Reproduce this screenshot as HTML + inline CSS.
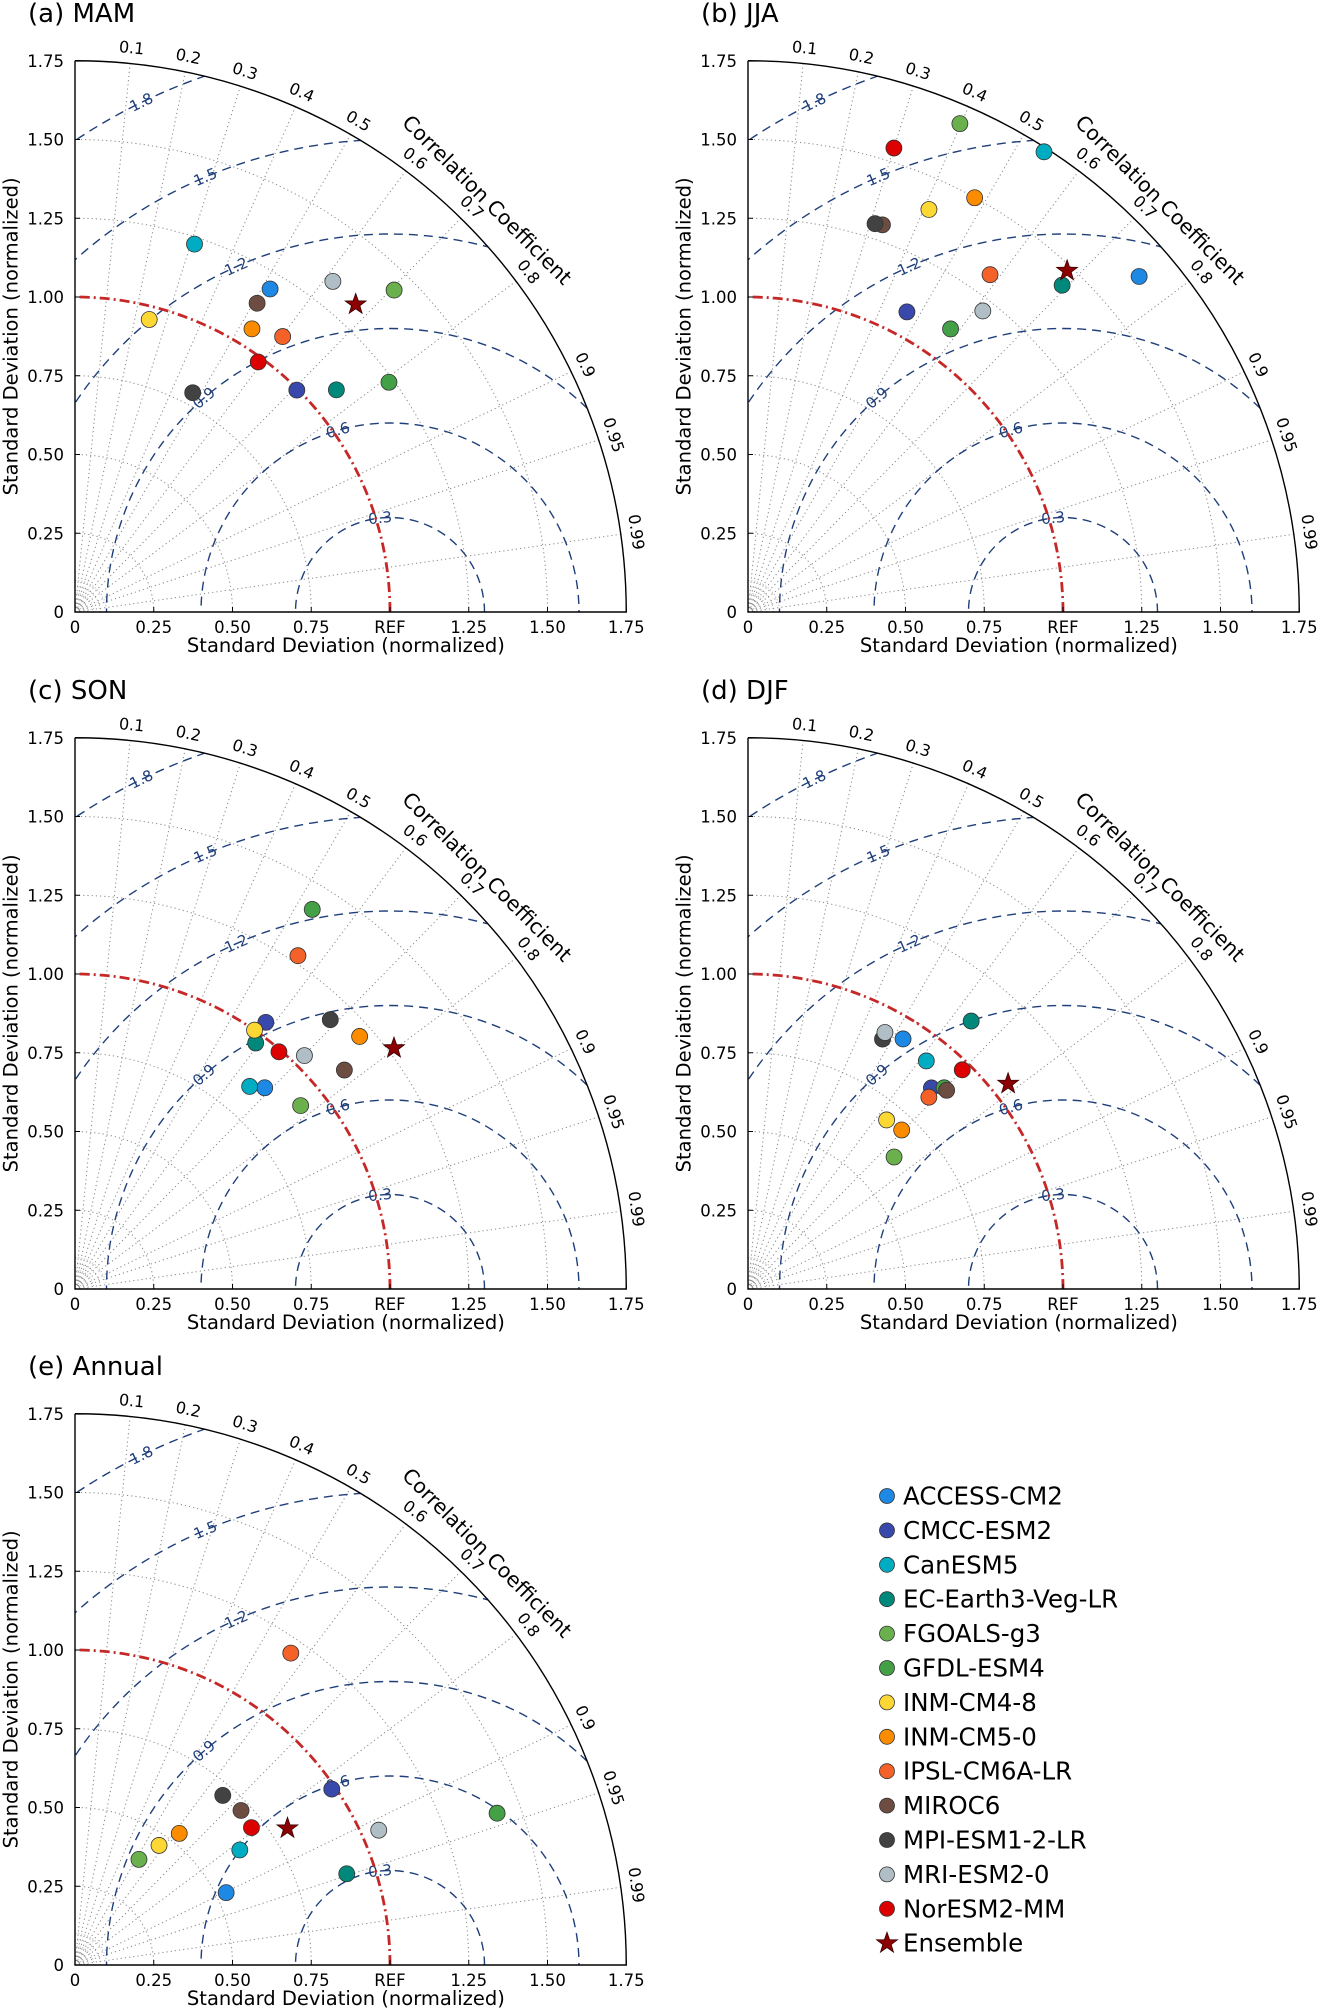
<!DOCTYPE html>
<html><head><meta charset="utf-8">
<style>
body{margin:0;background:#fff;overflow:hidden;}
svg{display:block;font-family:"DejaVu Sans","Liberation Sans",sans-serif;}
</style></head>
<body>
<svg id="fig" xmlns="http://www.w3.org/2000/svg" width="1321" height="2012" viewBox="0 0 1321 2012"></svg>
<script>
const models = ["ACCESS-CM2","CMCC-ESM2","CanESM5","EC-Earth3-Veg-LR","FGOALS-g3","GFDL-ESM4","INM-CM4-8","INM-CM5-0","IPSL-CM6A-LR","MIROC6","MPI-ESM1-2-LR","MRI-ESM2-0","NorESM2-MM","Ensemble"];
const colors = ["#1e88e5","#3949ab","#00acc1","#00897b","#6ab04c","#43a047","#fdd835","#fb8c00","#f4622a","#6d4c41","#424242","#b0bec5","#dd0000","#8b0000"];
const panelTitles = ["(a)  MAM","(b)  JJA","(c)  SON","(d)  DJF","(e)  Annual"];
// normalized standard deviation per model (last = Ensemble)
const stdMAM = [1.198,0.996,1.228,1.089,1.439,1.235,0.958,1.060,1.095,1.138,0.790,1.331,0.984,1.322];
const corMAM = [0.517,0.707,0.309,0.762,0.704,0.807,0.246,0.530,0.602,0.508,0.473,0.615,0.591,0.674];
const stdJJA = [1.636,1.078,1.737,1.439,1.690,1.105,1.401,1.499,1.318,1.301,1.297,1.212,1.544,1.483];
const corJJA = [0.759,0.468,0.541,0.693,0.398,0.582,0.410,0.480,0.583,0.328,0.311,0.615,0.300,0.683];
const stdSON = [0.878,1.041,0.849,0.969,0.923,1.421,1.000,1.208,1.273,1.102,1.178,1.039,0.993,1.269];
const corSON = [0.686,0.582,0.653,0.592,0.776,0.530,0.570,0.748,0.556,0.776,0.688,0.701,0.652,0.798];
const stdDJF = [0.934,0.864,0.919,1.107,0.625,0.892,0.694,0.702,0.837,0.892,0.901,0.923,0.973,1.052];
const corDJF = [0.527,0.674,0.616,0.640,0.742,0.698,0.634,0.695,0.686,0.707,0.474,0.471,0.699,0.785];
const stdANN = [0.532,0.988,0.638,0.910,0.392,1.424,0.464,0.533,1.204,0.720,0.714,1.055,0.710,0.802];
const corANN = [0.902,0.825,0.820,0.948,0.518,0.941,0.575,0.621,0.569,0.732,0.657,0.914,0.789,0.841];
const corrTicks = [0.1,0.2,0.3,0.4,0.5,0.6,0.7,0.8,0.9,0.95,0.99];
const corrLabels = ["0.1","0.2","0.3","0.4","0.5","0.6","0.7","0.8","0.9","0.95","0.99"];
const stdTicks = [0,0.25,0.5,0.75,1.0,1.25,1.5,1.75];
const xTickLabels = ["0","0.25","0.50","0.75","REF","1.25","1.50","1.75"];
const yTickLabels = ["0","0.25","0.50","0.75","1.00","1.25","1.50","1.75"];
const rmsLevels = [0.3,0.6,0.9,1.2,1.5,1.8];
const rmsLabels = ["0.3","0.6","0.9","1.2","1.5","1.8"];

const NS="http://www.w3.org/2000/svg";
const svg=document.getElementById('fig');
const U=315, RMAX=1.75;
const panels=[
 {ox:75,oy:612,std:stdMAM,cor:corMAM,name:'panel-mam'},
 {ox:748,oy:612,std:stdJJA,cor:corJJA,name:'panel-jja'},
 {ox:75,oy:1289,std:stdSON,cor:corSON,name:'panel-son'},
 {ox:748,oy:1289,std:stdDJF,cor:corDJF,name:'panel-djf'},
 {ox:75,oy:1965,std:stdANN,cor:corANN,name:'panel-annual'}];
function el(tag,attrs,parent){const e=document.createElementNS(NS,tag);for(const k in attrs)e.setAttribute(k,attrs[k]);(parent||svg).appendChild(e);return e;}
const defs=el('defs',{});
function starPath(cx,cy,R){let d='';for(let i=0;i<10;i++){const r=i%2?R*0.4:R;const a=-Math.PI/2+i*Math.PI/5;d+=(i?'L':'M')+(cx+r*Math.cos(a)).toFixed(1)+' '+(cy+r*Math.sin(a)).toFixed(1);}return d+'Z';}

panels.forEach((p,pi)=>{
 const g=el('g',{});
 
 
 const X=(sx)=>p.ox+sx*U, Y=(sy)=>p.oy-sy*U;
 const cp=el('clipPath',{id:'clip'+pi},defs);
 el('path',{d:`M${X(0)} ${Y(0)} L${X(RMAX)} ${Y(0)} A${RMAX*U} ${RMAX*U} 0 0 0 ${X(0)} ${Y(RMAX)} Z`},cp);
 const t=el('text',{x:p.ox-47,y:p.oy-590,'font-size':26,fill:'#000','xml:space':'preserve'},g);
 t.textContent=panelTitles[pi];
 
 
 for(let k=1;k<=5;k++){const r=0.02*k*U;el('path',{d:`M${p.ox+r} ${p.oy} A${r} ${r} 0 0 0 ${p.ox} ${p.oy-r}`,fill:'none',stroke:'#999','stroke-width':0.8,'stroke-dasharray':'1 2'},g);}
 [0.25,0.5,0.75,1.25,1.5].forEach(s=>{const r=s*U;
  const a=el('path',{d:`M${p.ox+r} ${p.oy} A${r} ${r} 0 0 0 ${p.ox} ${p.oy-r}`,fill:'none',stroke:'#888','stroke-width':1,'stroke-dasharray':'1.2 3'},g);
  
  });
 corrTicks.forEach((c,i)=>{const th=Math.acos(c);
  const ln=el('line',{x1:p.ox,y1:p.oy,x2:X(RMAX*Math.cos(th)),y2:Y(RMAX*Math.sin(th)),stroke:'#888','stroke-width':1,'stroke-dasharray':'1.2 3'},g);
  
  
  const lr=1.80, lx=X(lr*Math.cos(th)), ly=Y(lr*Math.sin(th));
  const deg=90-th*180/Math.PI;
  const tx=el('text',{x:lx,y:ly,'font-size':16,'text-anchor':'middle','dominant-baseline':'central',transform:`rotate(${deg} ${lx} ${ly})`},g);
  tx.textContent=corrLabels[i];
  
  
 });
 const rg=el('g',{'clip-path':`url(#clip${pi})`},g);
 const labAng=[96,106,131,114,113,116];
 rmsLevels.forEach((r,i)=>{const cx=X(1),rr=r*U;
  const c=el('circle',{cx:cx,cy:p.oy,r:rr,fill:'none',stroke:'#1f3f7a','stroke-width':1.4,'stroke-dasharray':'9 6'},rg);
  
  
  const ph=labAng[i]*Math.PI/180, lx=X(1+r*Math.cos(ph)), ly=Y(r*Math.sin(ph));
  const tx=el('text',{x:lx,y:ly,'font-size':15,fill:'#1f3f7a','text-anchor':'middle','dominant-baseline':'central',transform:`rotate(${90-labAng[i]} ${lx} ${ly})`},g);
  tx.textContent=rmsLabels[i];
  
  
 });
 const ref=el('path',{d:`M${X(1)} ${p.oy} A${U} ${U} 0 0 0 ${p.ox} ${Y(1)}`,fill:'none',stroke:'#c62828','stroke-width':2.8,'stroke-dasharray':'10 4 2 4'},g);
 
 
 el('path',{d:`M${X(0)} ${Y(RMAX)} L${X(0)} ${Y(0)} L${X(RMAX)} ${Y(0)} A${RMAX*U} ${RMAX*U} 0 0 0 ${X(0)} ${Y(RMAX)}`,fill:'none',stroke:'#000','stroke-width':1.4},g);
 stdTicks.forEach((s,i)=>{
  el('line',{x1:X(s),y1:p.oy,x2:X(s),y2:p.oy-5,stroke:'#000','stroke-width':1},g);
  el('line',{x1:p.ox,y1:Y(s),x2:p.ox+5,y2:Y(s),stroke:'#000','stroke-width':1},g);
  const xt=el('text',{x:X(s),y:p.oy+21,'font-size':16.5,'text-anchor':'middle'},g);
  xt.textContent=xTickLabels[i];
  
  
  const yt=el('text',{x:p.ox-11,y:Y(s)+6,'font-size':16.5,'text-anchor':'end'},g);
  yt.textContent=yTickLabels[i];
  
  
 });
 const xa=el('text',{x:X(0.86),y:p.oy+40,'font-size':19.5,'text-anchor':'middle'},g);
 xa.textContent='Standard Deviation (normalized)';
 
 
 const yx=p.ox-64, yy=Y(0.875);
 const ya=el('text',{x:yx,y:yy,'font-size':19.5,'text-anchor':'middle','dominant-baseline':'central',transform:`rotate(-90 ${yx} ${yy})`},g);
 ya.textContent='Standard Deviation (normalized)';
 
 
 const cth=45*Math.PI/180, cx=X(1.85*Math.cos(cth)), cy=Y(1.85*Math.sin(cth));
 const ct=el('text',{x:cx,y:cy,'font-size':20.5,'text-anchor':'middle','dominant-baseline':'central',transform:`rotate(45 ${cx} ${cy})`},g);
 ct.textContent='Correlation Coefficient';
 
 
 p.std.forEach((s,i)=>{const th=Math.acos(p.cor[i]);const px=X(s*Math.cos(th)),py=Y(s*Math.sin(th));
  let m;
  if(i===models.length-1){m=el('path',{d:starPath(px,py,11),fill:colors[i],stroke:'#3a0000','stroke-width':0.8},g);}
  else{m=el('circle',{cx:px,cy:py,r:8,fill:colors[i],stroke:'#333','stroke-width':0.8},g);}
  
  
 });
});
const lg=el('g',{});


models.forEach((m,i)=>{const y=1496+i*34.4;
 const eg=el('g',{},lg);
 
 
 if(i===models.length-1) el('path',{d:starPath(887,y,11),fill:colors[i],stroke:'#3a0000','stroke-width':0.8},eg);
 else el('circle',{cx:887,cy:y,r:7.5,fill:colors[i],stroke:'#333','stroke-width':0.8},eg);
 const t=el('text',{x:903,y:y+8.5,'font-size':24.5},eg);
 t.textContent=m;
});
</script>
</body></html>
